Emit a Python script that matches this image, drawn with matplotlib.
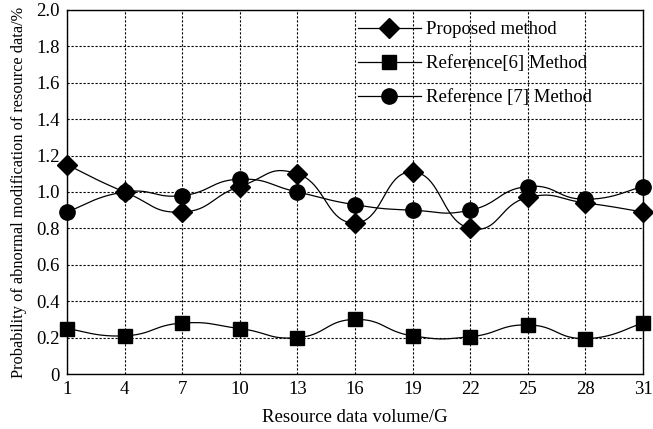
import numpy as np
import matplotlib
matplotlib.use("Agg")
import matplotlib.pyplot as plt

plt.rcParams['font.family'] = ['Liberation Serif', 'DejaVu Serif']

volume = [1, 4, 7, 10, 13, 16, 19, 22, 25, 28, 31]
proposed = [1.15, 1.00, 0.89, 1.03, 1.10, 0.83, 1.11, 0.80, 0.97, 0.94, 0.89]
ref6 = [0.25, 0.21, 0.28, 0.25, 0.20, 0.30, 0.21, 0.205, 0.27, 0.195, 0.28]
ref7 = [0.89, 1.00, 0.98, 1.07, 1.00, 0.93, 0.90, 0.90, 1.03, 0.96, 1.03]

labels = ["Proposed method", "Reference[6] Method", "Reference [7] Method"]
markers = ["D", "s", "o"]
msizes = [10, 9.5, 11]


def smooth(x, y, n=40, k=0.25):
    # excel-like bezier smoothing through the points
    pts = np.column_stack([x, y]).astype(float)
    P = np.vstack([pts[0], pts, pts[-1]])
    out = []
    t = np.linspace(0, 1, n)[:, None]
    for i in range(1, len(P) - 2):
        p0, p1, p2, p3 = P[i - 1], P[i], P[i + 1], P[i + 2]
        b1 = p1 + (p2 - p0) * k
        b2 = p2 - (p3 - p1) * k
        seg = (1 - t)**3 * p1 + 3 * (1 - t)**2 * t * b1 + 3 * (1 - t) * t**2 * b2 + t**3 * p2
        out.append(seg)
    out = np.vstack(out)
    return out[:, 0], out[:, 1]


fig = plt.figure(figsize=(6.53, 4.29), dpi=100)
ax = fig.add_axes([0.1026, 0.128, 0.882, 0.849])

for series, mk, ms, label in zip([proposed, ref6, ref7], markers, msizes, labels):
    sx, sy = smooth(volume, series)
    ax.plot(sx, sy, color="black", linewidth=0.9, clip_on=False)
    ax.plot(volume, series, linestyle="none", marker=mk, markersize=ms, color="black", clip_on=False, zorder=3)
    ax.plot([], [], color="black", linewidth=0.9, marker=mk, markersize=ms, label=label)

ax.set_xlim(1, 31)
ax.set_ylim(0, 2.0)
ax.set_xticks(volume)
yt = np.arange(0, 2.01, 0.2)
ax.set_yticks(yt)
ax.set_yticklabels(["0"] + [f"{v:.1f}" for v in yt[1:]])
ax.tick_params(axis='both', length=0, labelsize=13.5, pad=5)
ax.grid(True, color="black", linestyle=(0, (2, 1.6)), linewidth=0.8)
for s in ax.spines.values():
    s.set_linewidth(1.0)

ax.set_xlabel("Resource data volume/G", fontsize=13.5, labelpad=8)
ax.set_ylabel("Probability of abnormal modification of resource data/%", fontsize=11.8, labelpad=7)

ax.legend(loc="upper left", bbox_to_anchor=(0.485, 1.0), frameon=False, fontsize=13.5,
          handlelength=3.4, labelspacing=0.9, handletextpad=0.25, borderaxespad=0.2)

fig.savefig("out.png", dpi=100)
